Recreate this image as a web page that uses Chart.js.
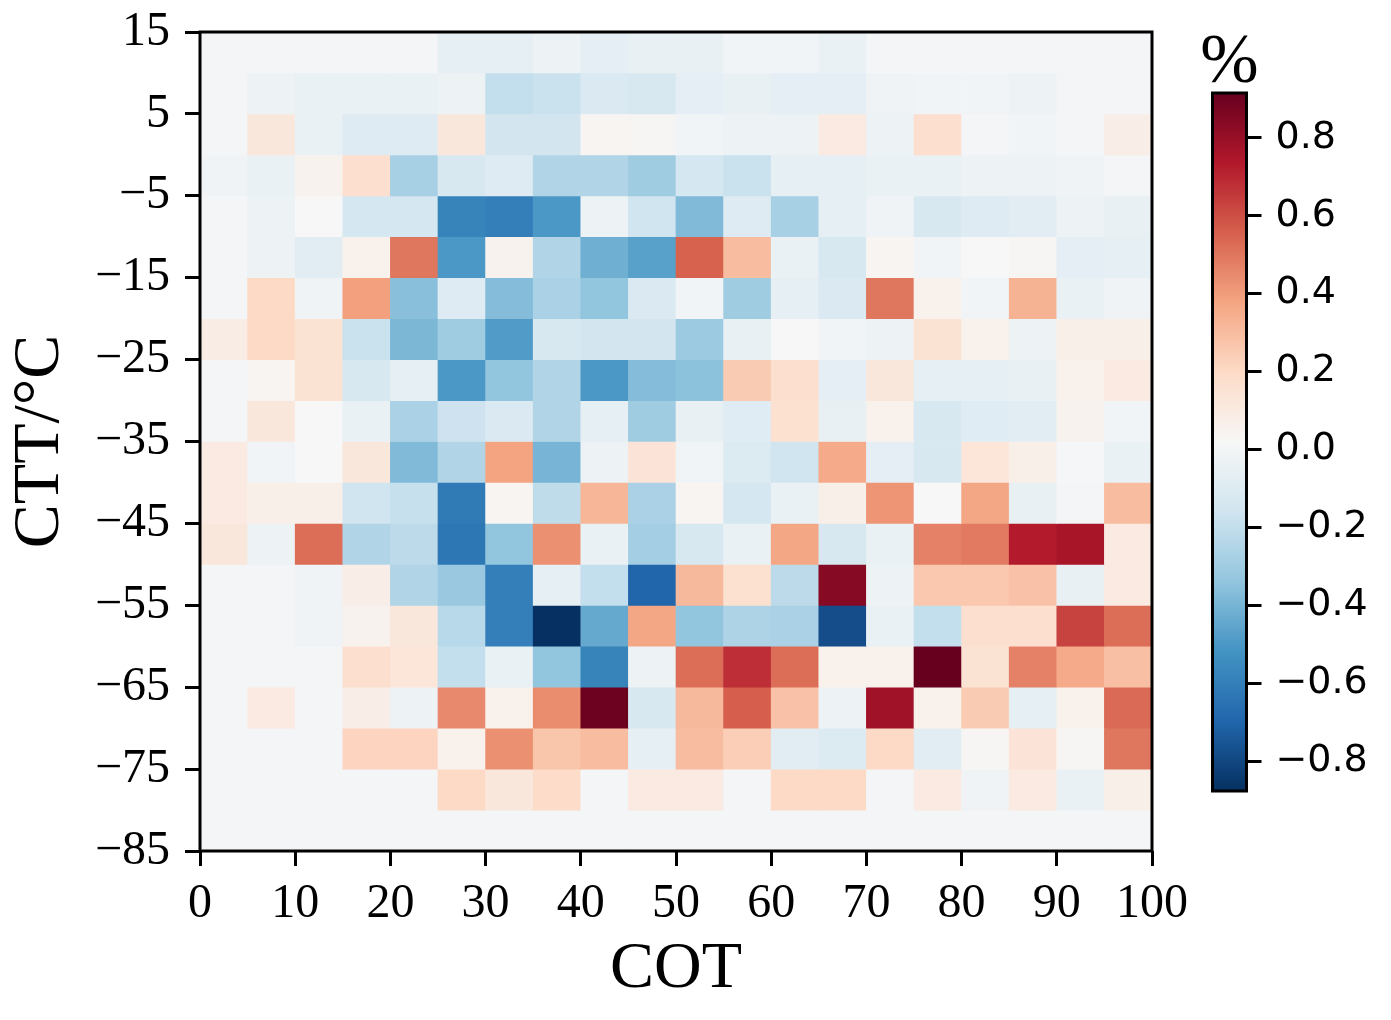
<!DOCTYPE html>
<html>
<head>
<meta charset="utf-8">
<script src="https://cdn.jsdelivr.net/npm/chart.js@4.4.1/dist/chart.umd.min.js"></script>
<style>
  html, body { margin: 0; padding: 0; background: #fff; }
  #wrap { position: relative; width: 1391px; height: 1020px; overflow: hidden; }
  #heat { position: absolute; left: 0; top: 0; }
  #cbar { position: absolute; left: 1150px; top: 0; }
</style>
</head>
<body>
<div id="wrap">
  <canvas id="heat" width="1391" height="1020"></canvas>
  <canvas id="cbar" width="241" height="1020"></canvas>
</div>
<script>
// ===== DATA =====
// COT bins (lower edges), bin width 5
const cotLow = [0, 5, 10, 15, 20, 25, 30, 35, 40, 45, 50, 55, 60, 65, 70, 75, 80, 85, 90, 95];
// CTT bins (lower edges, top row first)
const cttLow = [10, 5, 0, -5, -10, -15, -20, -25, -30, -35, -40, -45, -50, -55, -60, -65, -70, -75, -80, -85];
const binW = 5;

// anomaly in %, one row per CTT bin (same order as cttLow), one value per COT bin
const anomaly = [
  [0, 0, 0, 0, 0, -0.06, -0.06, -0.03, -0.07, -0.05, -0.05, -0.01, -0.01, -0.04, 0, 0, 0, 0, 0, 0],
  [0, -0.03, -0.04, -0.04, -0.04, -0.03, -0.2, -0.18, -0.12, -0.13, -0.07, -0.05, -0.07, -0.07, -0.02, -0.01, -0.01, -0.03, 0, 0],
  [0, 0.12, -0.04, -0.1, -0.1, 0.12, -0.15, -0.15, 0.04, 0.03, -0.01, -0.03, -0.03, 0.1, -0.03, 0.17, 0, -0.01, 0, 0.08],
  [-0.02, -0.04, 0.05, 0.17, -0.28, -0.13, -0.1, -0.25, -0.25, -0.3, -0.14, -0.18, -0.06, -0.06, -0.04, -0.04, -0.03, -0.03, -0.02, 0],
  [0, -0.03, 0.02, -0.14, -0.14, -0.58, -0.6, -0.5, -0.03, -0.16, -0.38, -0.1, -0.28, -0.06, -0.02, -0.13, -0.1, -0.08, -0.03, -0.05],
  [0, -0.03, -0.08, 0.06, 0.5, -0.5, 0.05, -0.25, -0.42, -0.47, 0.55, 0.3, -0.04, -0.13, 0.04, -0.01, 0.02, 0.03, -0.07, -0.06],
  [0, 0.2, -0.02, 0.39, -0.36, -0.1, -0.37, -0.27, -0.34, -0.12, -0.01, -0.3, -0.06, -0.12, 0.5, 0.06, -0.01, 0.33, -0.04, -0.02],
  [0.09, 0.2, 0.15, -0.18, -0.39, -0.3, -0.49, -0.13, -0.15, -0.15, -0.31, -0.05, 0.02, -0.01, -0.03, 0.15, 0.06, -0.03, 0.07, 0.07],
  [0, 0.04, 0.15, -0.13, -0.06, -0.5, -0.34, -0.25, -0.5, -0.37, -0.35, 0.25, 0.17, -0.07, 0.12, -0.06, -0.06, -0.05, 0.06, 0.1],
  [0, 0.12, 0.02, -0.04, -0.27, -0.17, -0.12, -0.25, -0.06, -0.3, -0.05, -0.09, 0.16, -0.05, 0.06, -0.13, -0.09, -0.08, 0.05, -0.01],
  [0.1, -0.01, 0.02, 0.12, -0.38, -0.25, 0.38, -0.4, -0.03, 0.14, -0.01, -0.11, -0.16, 0.36, -0.07, -0.13, 0.13, 0.07, 0.01, -0.04],
  [0.1, 0.07, 0.07, -0.16, -0.19, -0.62, 0.04, -0.21, 0.32, -0.27, 0.04, -0.14, -0.04, 0.07, 0.42, 0.02, 0.37, -0.05, 0, 0.3],
  [0.12, -0.03, 0.52, -0.25, -0.22, -0.63, -0.34, 0.43, -0.04, -0.29, -0.13, -0.04, 0.37, -0.13, -0.04, 0.47, 0.49, 0.73, 0.76, 0.1],
  [0, 0, -0.02, 0.08, -0.25, -0.32, -0.6, -0.06, -0.2, -0.7, 0.31, 0.16, -0.22, 0.84, -0.03, 0.26, 0.26, 0.28, -0.05, 0.1],
  [0, 0, -0.02, 0.05, 0.12, -0.23, -0.6, -0.877, -0.44, 0.37, -0.34, -0.26, -0.27, -0.78, -0.04, -0.2, 0.17, 0.17, 0.63, 0.52],
  [0, 0, 0, 0.17, 0.13, -0.2, -0.04, -0.34, -0.58, -0.03, 0.52, 0.68, 0.52, 0.06, 0.06, 0.915, 0.15, 0.47, 0.36, 0.29],
  [0, 0.1, 0, 0.08, -0.03, 0.45, 0.06, 0.44, 0.9, -0.13, 0.31, 0.56, 0.28, -0.03, 0.78, 0.06, 0.25, -0.06, 0.06, 0.53],
  [0, 0, 0, 0.22, 0.22, 0.06, 0.43, 0.27, 0.3, -0.06, 0.3, 0.24, -0.08, -0.11, 0.2, -0.08, 0.03, 0.14, 0.03, 0.5],
  [0, 0, 0, 0, 0, 0.2, 0.12, 0.19, 0, 0.1, 0.1, 0, 0.2, 0.2, 0, 0.1, -0.02, 0.1, -0.04, 0.07],
  [0, 0, 0, 0, 0, 0, 0, 0, 0, 0, 0, 0, 0, 0, 0, 0, 0, 0, 0, 0]
];

// tick labels
const xTicks = [0, 10, 20, 30, 40, 50, 60, 70, 80, 90, 100];
const yTicks = [-85, -75, -65, -55, -45, -35, -25, -15, -5, 5, 15];
const cbarTicks = [-0.8, -0.6, -0.4, -0.2, 0, 0.2, 0.4, 0.6, 0.8];
const cbarUnit = '%';

// ===== COLORMAP (RdBu_r) =====
const rdbu = [
  [5, 48, 97], [33, 102, 172], [67, 147, 195], [146, 197, 222], [209, 229, 240],
  [247, 247, 247], [253, 219, 199], [244, 165, 130], [214, 96, 77], [178, 24, 43], [103, 0, 31]
];

const flat = anomaly.flat();
const vmin = Math.min(...flat);
const vmax = Math.max(...flat);

function cmap(t) {
  t = Math.max(0, Math.min(1, t));
  const p = t * (rdbu.length - 1);
  const i = Math.min(Math.floor(p), rdbu.length - 2);
  const f = p - i;
  const a = rdbu[i], b = rdbu[i + 1];
  const c = a.map((v, k) => Math.round(v + (b[k] - v) * f));
  return `rgb(${c[0]},${c[1]},${c[2]})`;
}
const norm = v => (v - vmin) / (vmax - vmin);

const SERIF = "'Liberation Serif', 'Times New Roman', serif";
const SANS = "'DejaVu Sans', sans-serif";
const minus = s => String(s).replace('-', '\u2212');

// khung đen quanh vùng vẽ
const frame = {
  id: 'frame',
  afterDraw(chart) {
    const { ctx, chartArea: a } = chart;
    ctx.save();
    ctx.strokeStyle = '#000';
    ctx.lineWidth = 3;
    ctx.strokeRect(a.left, a.top, a.right - a.left, a.bottom - a.top);
    ctx.restore();
  }
};

// đơn vị "%" phía trên colorbar
const unitLabel = {
  id: 'unitLabel',
  afterDraw(chart) {
    const { ctx, chartArea: a } = chart;
    ctx.save();
    ctx.fillStyle = '#000';
    ctx.font = `70px ${SERIF}`;
    ctx.textAlign = 'center';
    ctx.textBaseline = 'alphabetic';
    ctx.fillText(cbarUnit, (a.left + a.right) / 2, a.top - 11);
    ctx.restore();
  }
};

const tickGrid = {
  display: true, drawOnChartArea: false, drawTicks: true,
  tickLength: 15, tickWidth: 3, tickColor: '#000', offset: false
};

// ===== HEATMAP =====
new Chart(document.getElementById('heat'), {
  type: 'bar',
  data: {
    datasets: cttLow.map((lo, r) => ({
      data: cotLow.map(x => ({ x: x + binW / 2, y: [lo, lo + binW] })),
      backgroundColor: anomaly[r].map(v => cmap(norm(v))),
      borderWidth: 0,
      grouped: false,
      barPercentage: 1,
      categoryPercentage: 1
    }))
  },
  options: {
    responsive: false,
    animation: false,
    events: [],
    layout: { padding: { left: 0, top: 32, right: 239, bottom: 0 } },
    plugins: { legend: { display: false }, tooltip: { enabled: false } },
    scales: {
      x: {
        type: 'linear', min: 0, max: 100, offset: false,
        afterBuildTicks: s => { s.ticks = xTicks.map(v => ({ value: v })); },
        afterFit: s => { s.height = 1020 - 851; s.paddingLeft = 0; s.paddingRight = 0; },
        grid: tickGrid,
        border: { display: false },
        ticks: {
          font: { family: SERIF, size: 48 }, color: '#000', padding: 10,
          maxRotation: 0, autoSkip: false, callback: v => minus(v)
        },
        title: {
          display: true, text: 'COT', color: '#000',
          font: { family: SERIF, size: 66 }, padding: { top: 0, bottom: 11 }
        }
      },
      y: {
        type: 'linear', min: -85, max: 15,
        afterBuildTicks: s => { s.ticks = yTicks.map(v => ({ value: v })); },
        afterFit: s => { s.width = 200; s.paddingTop = 0; s.paddingBottom = 0; },
        grid: tickGrid,
        border: { display: false },
        ticks: {
          font: { family: SERIF, size: 48 }, color: '#000', padding: 15,
          autoSkip: false, callback: v => minus(v)
        },
        title: {
          display: true, text: 'CTT/°C', color: '#000',
          font: { family: SERIF, size: 66 }, padding: { top: 1.5, bottom: 0 }
        }
      }
    }
  },
  plugins: [frame]
});

// ===== COLORBAR =====
function gradientFor(chart) {
  const area = chart.chartArea;
  if (!area) return null;
  const y = chart.scales.y;
  const g = chart.ctx.createLinearGradient(0, y.getPixelForValue(vmin), 0, y.getPixelForValue(vmax));
  rdbu.forEach((c, i) => g.addColorStop(i / (rdbu.length - 1), `rgb(${c[0]},${c[1]},${c[2]})`));
  return g;
}

new Chart(document.getElementById('cbar'), {
  type: 'bar',
  data: {
    labels: [''],
    datasets: [{
      data: [[vmin, vmax]],
      backgroundColor: ctx => gradientFor(ctx.chart),
      borderWidth: 0,
      barPercentage: 1,
      categoryPercentage: 1
    }]
  },
  options: {
    responsive: false,
    animation: false,
    events: [],
    layout: { padding: { left: 62.5, top: 93, right: 0, bottom: 229 } },
    plugins: { legend: { display: false }, tooltip: { enabled: false } },
    scales: {
      x: { display: false },
      y: {
        position: 'right', min: vmin, max: vmax,
        afterBuildTicks: s => { s.ticks = cbarTicks.map(v => ({ value: v })); },
        afterFit: s => { s.width = 241 - 96.5; s.paddingTop = 0; s.paddingBottom = 0; },
        grid: tickGrid,
        border: { display: false },
        ticks: {
          font: { family: SANS, size: 38 }, color: '#000', padding: 14,
          autoSkip: false, callback: v => minus(v.toFixed(1))
        }
      }
    }
  },
  plugins: [frame, unitLabel]
});
</script>
</body>
</html>
